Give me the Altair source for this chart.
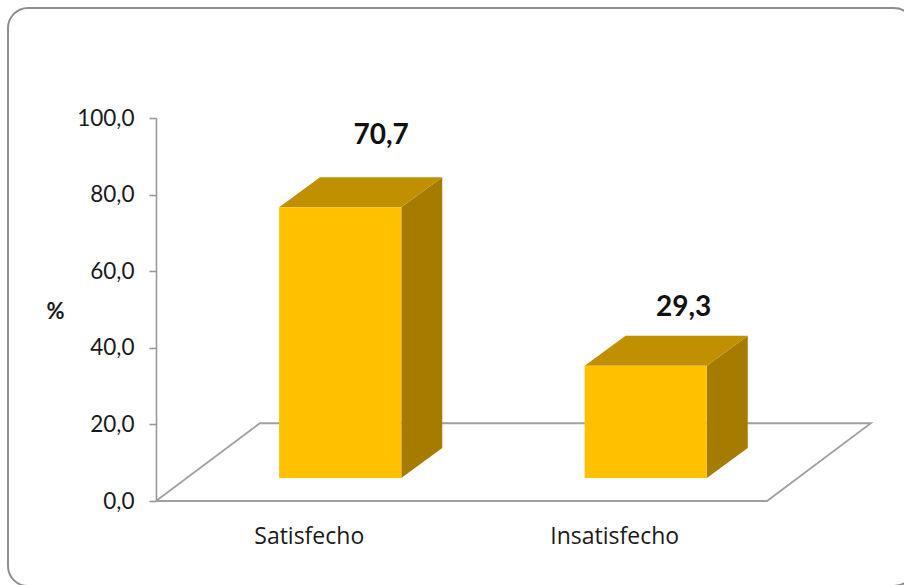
import altair as alt
import pandas as pd

# Survey result: share of respondents by satisfaction level
categories = ["Satisfecho", "Insatisfecho"]
values = [70.7, 29.3]
y_ticks = [0, 20, 40, 60, 80, 100]

# Oblique projection of the 3-D column chart, in axis units
CATEGORY_COUNT = len(categories)
BAR_WIDTH = 0.4
FLOOR_DX = 0.34
FLOOR_DY = 20.3
BAR_DX = 0.134
BAR_DY = 7.83
BAR_SHIFT_X = (FLOOR_DX - BAR_DX) / 2
BAR_SHIFT_Y = (FLOOR_DY - BAR_DY) / 2 - 0.25

WIDTH, HEIGHT = 748, 383
LEFT, TOP = 156, 118
X_MAX = WIDTH / 305.5

x_scale = alt.Scale(domain=[0, X_MAX], nice=False, zero=False)
y_scale = alt.Scale(domain=[0, 100], nice=False)

fronts, tops, sides = [], [], []
for i, (name, val) in enumerate(zip(categories, values)):
    x0 = i + 0.5 - BAR_WIDTH / 2 + BAR_SHIFT_X
    x1 = x0 + BAR_WIDTH
    base = BAR_SHIFT_Y
    top = base + val
    fronts.append({"name": name, "x": x0, "x2": x1, "y": base, "y2": top})
    tops += [
        {"name": name, "x": x0, "y": top, "y2": top},
        {"name": name, "x": x0 + BAR_DX, "y": top + BAR_DY, "y2": top},
        {"name": name, "x": x1, "y": top + BAR_DY, "y2": top},
        {"name": name, "x": x1 + BAR_DX, "y": top + BAR_DY, "y2": top + BAR_DY},
    ]
    sides += [
        {"name": name, "x": x1, "y": top, "y2": base},
        {"name": name, "x": x1 + BAR_DX, "y": top + BAR_DY, "y2": base + BAR_DY},
    ]

floor = pd.DataFrame(
    [
        {"step": 0, "x": 0, "y": 0},
        {"step": 1, "x": FLOOR_DX, "y": FLOOR_DY},
        {"step": 2, "x": CATEGORY_COUNT + FLOOR_DX, "y": FLOOR_DY},
        {"step": 3, "x": CATEGORY_COUNT, "y": 0},
        {"step": 4, "x": 0, "y": 0},
    ]
)

label_expr = f"datum.value < 1 ? '{categories[0]}' : '{categories[1]}'"
x_axis = alt.Axis(
    values=[0.5, 1.5], labelExpr=label_expr, title=None, domain=False, ticks=False,
    labelPadding=24, labelFont="Open Sans", labelFontSize=23, labelColor="#1a1a1a",
    labelAngle=0, grid=False,
)
y_axis = alt.Axis(
    values=y_ticks, labelExpr="replace(format(datum.value, '.1f'), '.', ',')",
    title="%", titleAngle=0, titleX=-101, titleY=193, titleFont="Lato", titleFontSize=22,
    titleFontWeight="bold", titleColor="#1a1a1a", titleBaseline="middle", titleAlign="center",
    domainColor="#999999", domainWidth=1.6, tickColor="#999999", tickWidth=1.6, tickSize=7,
    labelPadding=15, labelFont="Lato", labelFontSize=22.5, labelColor="#1a1a1a", grid=False,
)

# Rounded frame around the chart area
frame = alt.Chart(alt.Data(values=[{"f": 1}])).mark_rect(
    cornerRadius=20, fill="transparent", stroke="#8f8f8f", strokeWidth=2
).encode(
    x=alt.value(8 - LEFT), x2=alt.value(914 - LEFT),
    y=alt.value(8 - TOP), y2=alt.value(586 - TOP),
)

floor_lines = alt.Chart(floor).mark_line(color="#a0a0a0", strokeWidth=1.8).encode(
    x=alt.X("x:Q", scale=x_scale, axis=x_axis),
    y=alt.Y("y:Q", scale=y_scale, axis=y_axis),
    order="step:Q",
)

side_faces = alt.Chart(pd.DataFrame(sides)).mark_area(orient="vertical", color="#A67C00").encode(
    x=alt.X("x:Q", scale=x_scale),
    y=alt.Y("y:Q", scale=y_scale),
    y2="y2:Q",
    detail="name:N",
)

top_faces = alt.Chart(pd.DataFrame(tops)).mark_area(orient="vertical", color="#C09000").encode(
    x=alt.X("x:Q", scale=x_scale),
    y=alt.Y("y:Q", scale=y_scale),
    y2="y2:Q",
    detail="name:N",
)

front_faces = alt.Chart(pd.DataFrame(fronts)).mark_rect(color="#FFC000").encode(
    x=alt.X("x:Q", scale=x_scale),
    x2="x2:Q",
    y=alt.Y("y:Q", scale=y_scale),
    y2="y2:Q",
)


def value_label(index, lift, shift):
    """Bold value label floating above one column."""
    row = fronts[index]
    text = f"{values[index]:.1f}".replace(".", ",")
    source = pd.DataFrame([{"x": (row["x"] + row["x2"]) / 2, "y": row["y2"], "text": text}])
    return alt.Chart(source).mark_text(
        font="Lato", fontSize=28, fontWeight="bold", color="#111111",
        baseline="middle", align="center", dy=-lift, dx=shift,
    ).encode(
        x=alt.X("x:Q", scale=x_scale),
        y=alt.Y("y:Q", scale=y_scale),
        text="text:N",
    )


chart = alt.layer(
    frame, floor_lines, side_faces, top_faces, front_faces,
    value_label(0, 71, 41), value_label(1, 58, 38),
).properties(
    width=WIDTH, height=HEIGHT,
    padding={"left": LEFT, "top": TOP, "right": 0, "bottom": 84},
    autosize=alt.AutoSizeParams(type="none"),
    background="white",
).configure_view(stroke=None)

chart.save("out.html", embed_options={"renderer": "svg", "actions": False})
